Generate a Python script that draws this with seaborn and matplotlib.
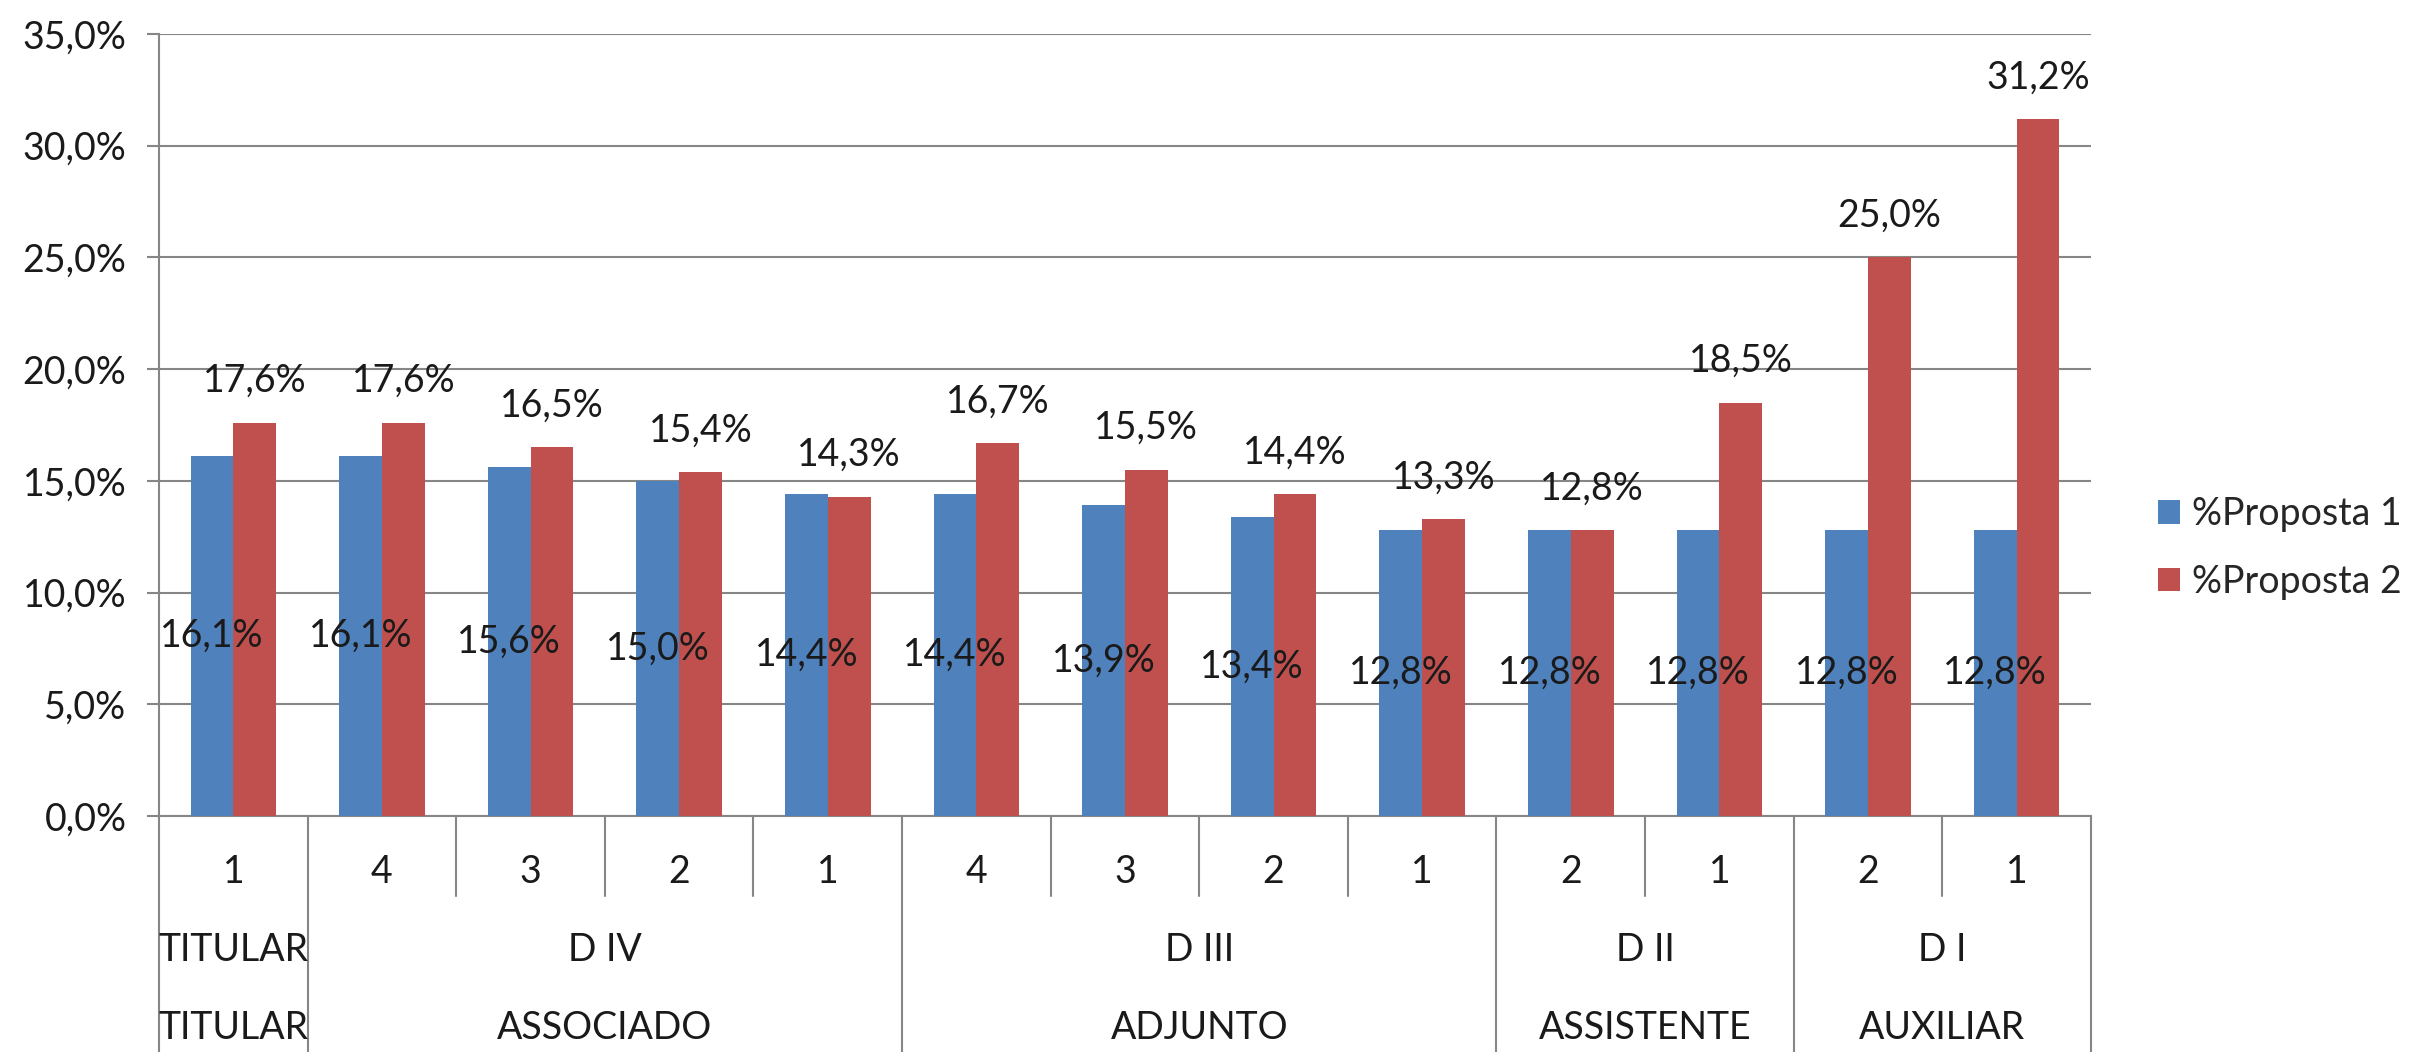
import numpy as np
import pandas as pd
import matplotlib
matplotlib.use("Agg")
import matplotlib.pyplot as plt
import matplotlib.transforms as mtransforms
from matplotlib.ticker import FuncFormatter, MultipleLocator
import seaborn as sns

# ------------------------
# 0. Data
# ------------------------
padrao = ["1", "4", "3", "2", "1", "4", "3", "2", "1", "2", "1", "2", "1"]
nivel = ["TITULAR", "D IV", "D IV", "D IV", "D IV", "D III", "D III", "D III", "D III",
         "D II", "D II", "D I", "D I"]
classe = ["TITULAR", "ASSOCIADO", "ASSOCIADO", "ASSOCIADO", "ASSOCIADO",
          "ADJUNTO", "ADJUNTO", "ADJUNTO", "ADJUNTO",
          "ASSISTENTE", "ASSISTENTE", "AUXILIAR", "AUXILIAR"]
proposta_1 = [16.1, 16.1, 15.6, 15.0, 14.4, 14.4, 13.9, 13.4, 12.8, 12.8, 12.8, 12.8, 12.8]
proposta_2 = [17.6, 17.6, 16.5, 15.4, 14.3, 16.7, 15.5, 14.4, 13.3, 12.8, 18.5, 25.0, 31.2]
series = ["%Proposta 1", "%Proposta 2"]
cores = ["#4F81BD", "#C0504D"]

keys = [f"{n}-{p}" for n, p in zip(nivel, padrao)]
df = pd.DataFrame({
    "cat": keys * 2,
    "valor": proposta_1 + proposta_2,
    "serie": [series[0]] * len(keys) + [series[1]] * len(keys),
})


def pct(v):
    return f"{v:.1f}%".replace(".", ",")


# ------------------------
# 1. Style
# ------------------------
sns.set_theme(style="white")
plt.rcParams["font.family"] = ["Lato", "DejaVu Sans"]
fs = 27
txt_c = "#1a1a1a"
grid_c = "#868686"

fig = plt.figure(figsize=(24.1, 10.52), dpi=100)
ax = fig.add_axes([0.066, 0.2243, 0.8016, 0.7434])

sns.barplot(data=df, x="cat", y="valor", hue="serie", order=keys,
            palette=cores, width=0.575, gap=0, saturation=1, linewidth=0,
            errorbar=None, ax=ax, zorder=3)

ax.set_xlim(-0.5, len(keys) - 0.5)
ax.set_ylim(0, 35)
ax.yaxis.set_major_locator(MultipleLocator(5))
ax.yaxis.set_major_formatter(FuncFormatter(lambda v, p: pct(v)))
ax.grid(axis="y", color=grid_c, linewidth=1.5, zorder=0)
ax.set_axisbelow(True)
for s in ["top", "right"]:
    ax.spines[s].set_visible(False)
for s in ["left", "bottom"]:
    ax.spines[s].set_color(grid_c)
    ax.spines[s].set_linewidth(1.5)
ax.tick_params(axis="y", direction="out", length=8.5, width=1.5, color=grid_c,
               labelsize=fs, labelcolor=txt_c, pad=15, left=True)
ax.tick_params(axis="x", length=0, labelbottom=False)
ax.set_xlabel("")
ax.set_ylabel("")

# data labels
ax.bar_label(ax.containers[0], labels=[pct(v) for v in proposta_1],
             label_type="center", fontsize=fs, color=txt_c)
ax.bar_label(ax.containers[1], labels=[pct(v) for v in proposta_2],
             label_type="edge", padding=17, fontsize=fs, color=txt_c)

# ------------------------
# 2. Multi-level category axis
# ------------------------
trans = mtransforms.blended_transform_factory(ax.transData, ax.transAxes)
n = len(keys)
group_starts = [i for i in range(n) if i == 0 or nivel[i] != nivel[i - 1]] + [n]
for i in range(n + 1):
    y_end = -0.302 if i in group_starts else -0.102
    ax.plot([i - 0.5, i - 0.5], [0, y_end], transform=trans, color=grid_c,
            linewidth=1.5, clip_on=False)

for i, p in enumerate(padrao):
    ax.text(i, -0.0716, p, transform=trans, ha="center", va="center",
            fontsize=fs, color=txt_c)

for a, b in zip(group_starts[:-1], group_starts[1:]):
    xc = (a + b - 1) / 2
    ax.text(xc, -0.171, nivel[a], transform=trans, ha="center", va="center",
            fontsize=fs, color=txt_c)
    ax.text(xc, -0.271, classe[a], transform=trans, ha="center", va="center",
            fontsize=fs, color=txt_c)

# ------------------------
# 3. Legend
# ------------------------
handles, labels = ax.get_legend_handles_labels()
ax.legend(handles, labels, loc="center left", bbox_to_anchor=(1.0347, 0.343),
          frameon=False, fontsize=fs, handlelength=0.6, handleheight=0.6,
          handletextpad=0.3, labelspacing=0.85, borderpad=0, borderaxespad=0)

fig.savefig("out.png", dpi=100)
